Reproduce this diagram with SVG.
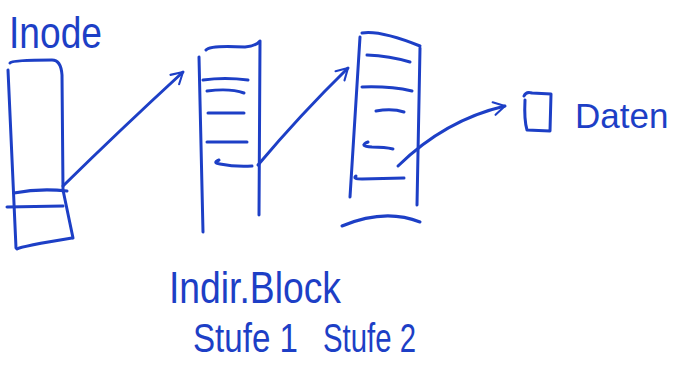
<svg xmlns="http://www.w3.org/2000/svg" width="674" height="380" viewBox="0 0 674 380">
<style>
.s{fill:none;stroke:#1d3fc6;stroke-width:3;stroke-linecap:round;stroke-linejoin:round}
.t{fill:#1d3fc6;font-family:"Liberation Sans",Arial,sans-serif}
</style>
<defs>
<marker id="ah" viewBox="0 0 20 20" refX="17" refY="10" markerWidth="16" markerHeight="16" markerUnits="userSpaceOnUse" orient="auto">
<path d="M3,2 L17,10 L3,18" fill="none" stroke="#1d3fc6" stroke-width="2.6" stroke-linecap="round" stroke-linejoin="round"/>
</marker>
</defs>
<rect width="674" height="380" fill="#ffffff"/>
<g id="inode">
<path class="s" d="M8,70 L16,248"/>
<path class="s" d="M10,63 Q12,60 52,60 Q61,60 62,75 L63,190 L73,238"/>
<path class="s" d="M17,249 Q22,246 72,238"/>
<path class="s" d="M14,193 Q40,188 67,191"/>
<path class="s" d="M7,207 L63,206"/>
<text class="t" x="9" y="48" font-size="44" textLength="93" lengthAdjust="spacingAndGlyphs">Inode</text>
</g>
<g id="stufe1">
<path class="s" d="M199,57 L203,232"/>
<path class="s" d="M206,50 Q210,45 245,47 Q256,46 260,41 L259,215"/>
<path class="s" d="M203,80 Q225,77 248,80"/>
<path class="s" d="M207,91 Q230,88 244,93"/>
<path class="s" d="M208,113 L244,113"/>
<path class="s" d="M207,142 L247,142"/>
<path class="s" d="M219,160 Q212,163 220,164 Q235,167 252,166"/>
</g>
<g id="stufe2">
<path class="s" d="M362,33 Q380,30 420,46"/>
<path class="s" d="M360,37 L350,197"/>
<path class="s" d="M420,48 L417,205"/>
<path class="s" d="M367,55 Q390,56 410,62"/>
<path class="s" d="M362,87 Q390,86 412,91"/>
<path class="s" d="M376,111 Q392,108 404,112"/>
<path class="s" d="M368,142 Q358,146 372,147 Q385,147 393,149"/>
<path class="s" d="M356,176 Q352,179 362,179 L404,178"/>
<path class="s" d="M342,226 Q385,208 420,222"/>
</g>
<g id="daten">
<path class="s" d="M524,96 Q526,91 532,93 L551,94 L550,131 L527,130 Q524,120 525,100"/>
<text class="t" x="575" y="128" font-size="35">Daten</text>
</g>
<g id="labels">
<text class="t" x="169" y="303" font-size="44" textLength="172" lengthAdjust="spacingAndGlyphs">Indir.Block</text>
<text class="t" x="193" y="352" font-size="40" textLength="105" lengthAdjust="spacingAndGlyphs">Stufe 1</text>
<text class="t" x="323" y="352" font-size="40" textLength="93" lengthAdjust="spacingAndGlyphs">Stufe 2</text>
</g>
<g id="connectors">
<path class="s" d="M63,186 Q120,130 183,72" marker-end="url(#ah)"/>
<path class="s" d="M258,165 Q300,115 348,68" marker-end="url(#ah)"/>
<path class="s" d="M398,166 Q445,120 505,106" marker-end="url(#ah)"/>
</g>
</svg>
